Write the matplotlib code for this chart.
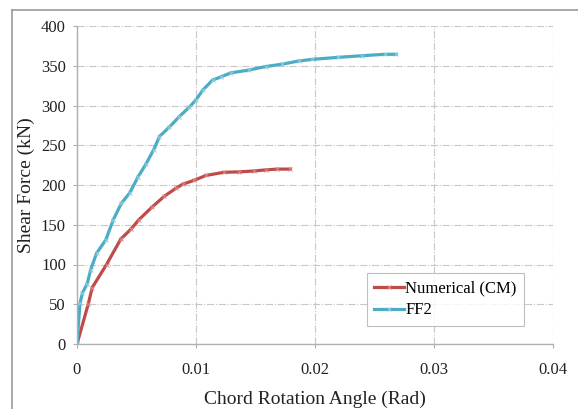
import matplotlib
matplotlib.use('Agg')
import matplotlib.pyplot as plt
from matplotlib.lines import Line2D

plt.rcParams['font.family'] = ['Liberation Serif', 'DejaVu Serif']

# Numerical (CM)
cm_x = [0, 0.00094, 0.00128, 0.00248, 0.00368, 0.00457, 0.00518, 0.00629, 0.00735,
        0.00833, 0.00888, 0.00986, 0.01083, 0.01236, 0.01362, 0.01487, 0.01585,
        0.01682, 0.01793]
cm_y = [0, 50, 71, 100, 132, 145, 156, 172, 186, 196, 201, 206, 212, 216, 216.5,
        217.6, 219, 220, 220]

# FF2
ff_x = [0, 0.00025, 0.00045, 0.00086, 0.00114, 0.00164, 0.00242, 0.00304, 0.00373,
        0.00443, 0.00512, 0.00582, 0.00643, 0.00693, 0.00777, 0.0086, 0.00944, 0.01,
        0.01055, 0.01139, 0.01209, 0.01292, 0.01445, 0.01585, 0.01724, 0.01863,
        0.01975, 0.02197, 0.02392, 0.02587, 0.02684]
ff_y = [0, 51, 64, 76, 93, 114, 131, 156, 177, 190, 210, 227, 244, 261, 273, 286,
        298, 307, 319, 332, 336, 341, 344.6, 349, 352, 356, 358, 360.6, 362.6, 364.4,
        364.4]

x_ticks = [0, 0.01, 0.02, 0.03, 0.04]
x_labels = ['0', '0.01', '0.02', '0.03', '0.04']
y_ticks = [0, 50, 100, 150, 200, 250, 300, 350, 400]

fig = plt.figure(figsize=(5.78, 4.09), dpi=100)
ax = fig.add_axes([77/578, 1 - 344/409, (553 - 77)/578, (344 - 26)/409])

red = '#be4b48'
blue = '#4bacc6'
ax.plot(cm_x, cm_y, color=red, lw=2.3, marker='x', ms=3, mew=0.7,
        mec='#d98c8a', label='Numerical (CM)')
ax.plot(ff_x, ff_y, color=blue, lw=2.3, marker='x', ms=3, mew=0.7,
        mec='#93cfdf', label='FF2')

ax.set_xlim(0, 0.04)
ax.set_ylim(0, 400)
ax.set_xticks(x_ticks)
ax.set_xticklabels(x_labels)
ax.set_yticks(y_ticks)
ax.grid(True, color='#c8c8c8', ls='-.', lw=0.8)
ax.set_axisbelow(True)
for s in ['top', 'right']:
    ax.spines[s].set_visible(False)
for s in ['left', 'bottom']:
    ax.spines[s].set_color('#b0b0b0')
    ax.spines[s].set_linewidth(1.0)
ax.tick_params(colors='#b0b0b0', length=3, labelcolor='#222222', labelsize=12)
ax.tick_params(axis='x', pad=10)
ax.tick_params(axis='y', pad=5)

ax.set_ylabel('Shear Force (kN)', fontsize=14, color='#222222', labelpad=4)
ax.set_xlabel('Chord Rotation Angle (Rad)', fontsize=14, color='#222222', labelpad=9)

leg = ax.legend(loc='upper left', bbox_to_anchor=((367 - 77)/476, 1 - (273 - 26)/318),
                fontsize=12, frameon=True, fancybox=False, handlelength=1.8,
                handletextpad=0.05, borderpad=0.45, labelspacing=0.35,
                borderaxespad=0)
leg.get_frame().set_edgecolor('#b0b0b0')
leg.get_frame().set_linewidth(0.8)

# outer chart frame
fig.add_artist(Line2D([12/578, 1], [1 - 10/409, 1 - 10/409], color='#999999', lw=1.2,
                      transform=fig.transFigure))
fig.add_artist(Line2D([12/578, 12/578], [0, 1 - 10/409], color='#999999', lw=1.2,
                      transform=fig.transFigure))

fig.savefig('out.png', dpi=100)
